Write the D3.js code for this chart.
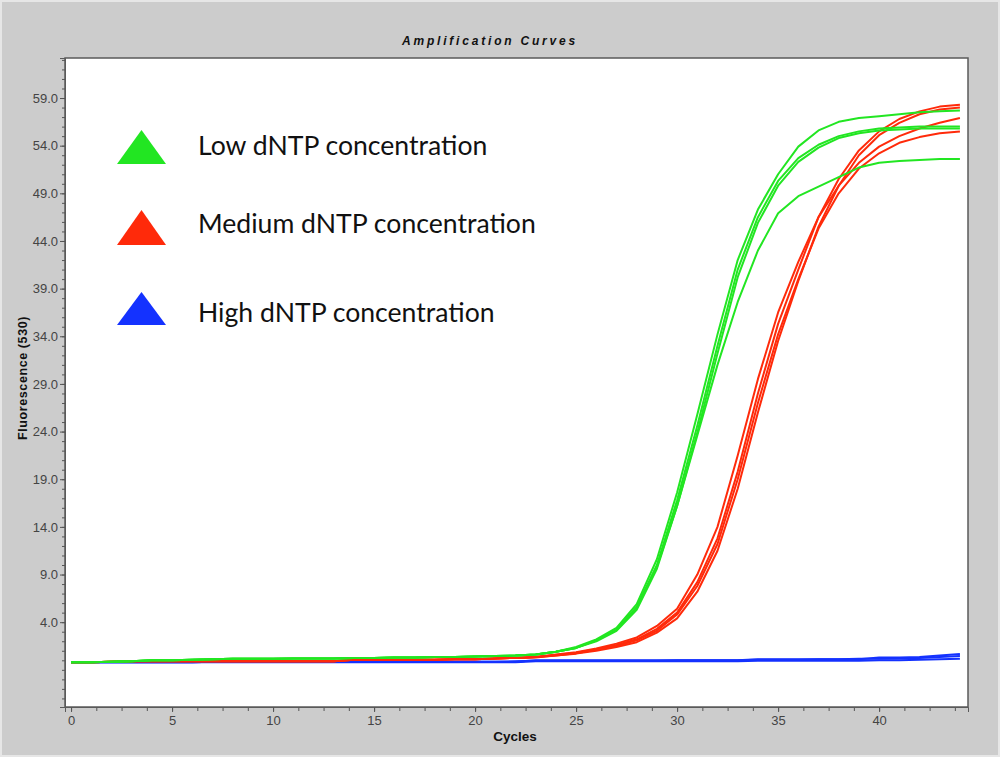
<!DOCTYPE html>
<html>
<head>
<meta charset="utf-8">
<script src="https://cdn.jsdelivr.net/npm/d3@7"></script>
<style>
  body { margin: 0; background: #cccccc; }
  svg { display: block; }
  .tick text { font-family: "Liberation Sans", Arial, sans-serif; font-size: 13px; fill: #444; }
  .tick line { stroke: #555; }
</style>
</head>
<body>
<div class="container"></div>
<script>
// Cycle numbers (x values) shared by every curve
const cycles = d3.range(0, 45);

// Low dNTP concentration (green) curves
const lowA = [-0.2,-0.2,-0.15,-0.1,0.0,0.0,0.05,0.1,0.15,0.15,0.15,0.2,0.2,0.2,0.25,0.25,0.3,0.3,0.35,0.35,0.4,0.45,0.5,0.6,0.9,1.3,2.1,3.2,5.6,10.0,16.8,24.6,33.0,41.0,46.5,50.3,52.7,54.1,55.0,55.5,55.8,55.9,56.0,56.0,56.0];
const lowB = [-0.2,-0.2,-0.15,-0.1,0.0,0.0,0.05,0.1,0.15,0.15,0.15,0.2,0.2,0.2,0.25,0.25,0.3,0.3,0.35,0.35,0.4,0.45,0.5,0.6,0.9,1.3,2.0,3.1,5.3,9.6,16.2,23.9,32.2,40.2,45.9,49.8,52.3,53.8,54.8,55.3,55.6,55.7,55.8,55.8,55.8];
const lowC = [-0.2,-0.2,-0.15,-0.1,0.0,0.0,0.05,0.1,0.15,0.15,0.15,0.2,0.2,0.2,0.25,0.25,0.3,0.3,0.35,0.35,0.4,0.45,0.5,0.6,0.9,1.4,2.2,3.4,5.9,10.6,17.6,25.8,34.2,42.0,47.3,51.0,53.9,55.6,56.5,56.9,57.1,57.3,57.5,57.6,57.7];
const lowD = [-0.2,-0.2,-0.15,-0.1,0.0,0.0,0.05,0.1,0.15,0.15,0.15,0.2,0.2,0.2,0.25,0.25,0.3,0.3,0.35,0.35,0.4,0.45,0.5,0.6,0.9,1.3,2.1,3.2,5.5,9.8,16.2,23.6,31.0,37.6,43.0,46.9,48.7,49.7,50.7,51.7,52.2,52.4,52.5,52.6,52.6];

// Medium dNTP concentration (red) curves
const medA = [-0.2,-0.2,-0.15,-0.1,-0.1,-0.1,-0.1,-0.1,-0.1,-0.1,-0.1,-0.1,-0.1,-0.1,0.05,0.05,0.05,0.05,0.05,0.1,0.1,0.2,0.25,0.35,0.55,0.8,1.15,1.6,2.2,3.3,5.0,8.2,12.8,19.8,28.0,35.3,41.0,46.5,50.5,53.5,55.5,56.8,57.6,58.1,58.3];
const medB = [-0.2,-0.2,-0.15,-0.1,-0.1,-0.1,-0.1,-0.1,-0.1,-0.1,-0.1,-0.1,-0.1,-0.1,0.05,0.05,0.05,0.05,0.05,0.1,0.1,0.2,0.25,0.3,0.5,0.7,1.0,1.4,1.9,2.9,4.4,7.2,11.5,18.0,26.0,33.5,39.8,45.5,49.8,53.0,55.1,56.4,57.3,57.8,58.0];
const medC = [-0.2,-0.2,-0.15,-0.1,-0.1,-0.1,-0.1,-0.1,-0.1,-0.1,-0.1,-0.1,-0.1,-0.1,0.05,0.05,0.05,0.05,0.05,0.1,0.1,0.2,0.25,0.35,0.6,0.85,1.25,1.75,2.4,3.6,5.4,9.0,14.0,21.5,29.5,36.5,41.8,46.5,49.8,52.2,53.9,55.0,55.8,56.4,56.9];
const medD = [-0.2,-0.2,-0.15,-0.1,-0.1,-0.1,-0.1,-0.1,-0.1,-0.1,-0.1,-0.1,-0.1,-0.1,0.05,0.05,0.05,0.05,0.05,0.1,0.1,0.2,0.25,0.35,0.5,0.75,1.1,1.5,2.1,3.1,4.8,7.8,12.2,19.0,27.0,34.2,40.0,45.3,49.0,51.6,53.2,54.3,54.9,55.3,55.5];

// High dNTP concentration (blue) curves
const highA = [-0.2,-0.2,-0.2,-0.2,-0.2,-0.2,-0.2,-0.15,-0.15,-0.15,-0.15,-0.15,-0.15,-0.15,-0.15,-0.15,-0.15,-0.15,-0.15,-0.15,-0.15,-0.15,-0.15,0.0,0.0,0.0,0.0,0.0,0.0,0.0,0.0,0.0,0.0,0.0,0.1,0.1,0.1,0.1,0.1,0.1,0.3,0.3,0.35,0.5,0.65];
const highB = [-0.2,-0.2,-0.2,-0.2,-0.2,-0.2,-0.2,-0.2,-0.2,-0.2,-0.2,-0.2,-0.2,-0.2,-0.2,-0.2,-0.2,-0.2,-0.2,-0.2,-0.2,-0.2,-0.2,-0.1,-0.1,-0.1,-0.1,-0.1,-0.1,-0.1,-0.1,-0.1,-0.1,-0.1,-0.05,-0.05,-0.05,-0.05,-0.05,-0.05,0.0,0.0,0.05,0.1,0.15];
const highC = [-0.2,-0.2,-0.2,-0.2,-0.2,-0.2,-0.2,-0.15,-0.15,-0.15,-0.15,-0.15,-0.15,-0.15,-0.15,-0.15,-0.15,-0.15,-0.15,-0.15,-0.15,-0.15,-0.1,-0.05,-0.05,-0.05,-0.05,-0.05,-0.05,-0.05,0.0,0.0,0.0,0.0,0.05,0.05,0.05,0.1,0.1,0.15,0.15,0.2,0.25,0.35,0.45];

// Legend entries
const legendNames = ['Low dNTP concentration', 'Medium dNTP concentration', 'High dNTP concentration'];
const legendColors = ['#22e622', '#ff2a0a', '#1432ff'];

// Tick values
const xMajorTicks = [0, 5, 10, 15, 20, 25, 30, 35, 40];
const xMinorTicks = d3.range(0, 44.5, 1.25);
const yMajorTicks = [4, 9, 14, 19, 24, 29, 34, 39, 44, 49, 54, 59];
const yMinorTicks = d3.range(-4, 64, 1);

// Curves grouped by colour, drawn blue first so green ends on top
const series = [
  { color: legendColors[2], curves: [highB, highC, highA] },
  { color: legendColors[1], curves: [medA, medB, medC, medD] },
  { color: legendColors[0], curves: [lowA, lowB, lowC, lowD] }
];

const width = 1000;
const height = 757;

const svg = d3.select('.container')
  .append('svg')
  .attr('width', width)
  .attr('height', height);

// Grey background with light edge
svg.append('rect')
  .attr('x', 0.5).attr('y', 0.5)
  .attr('width', width - 1).attr('height', height - 1)
  .attr('fill', '#cccccc')
  .attr('stroke', '#e6e6e6')
  .attr('stroke-width', 3);

// Scales: plot box runs from x 65 to 968 and y 58 to 707
const xScale = d3.scaleLinear().domain([-0.3, 44.4]).range([65, 968]);
const yScale = d3.scaleLinear().domain([-4.9, 63.2]).range([707, 58]);

// White plot area
svg.append('rect')
  .attr('x', xScale.range()[0])
  .attr('y', yScale.range()[1])
  .attr('width', xScale.range()[1] - xScale.range()[0])
  .attr('height', yScale.range()[0] - yScale.range()[1])
  .attr('fill', '#ffffff')
  .attr('stroke', '#5a5a5a')
  .attr('stroke-width', 1.5);

// Minor ticks first, then labelled ticks
svg.append('g')
  .attr('transform', 'translate(0, 707)')
  .call(d3.axisBottom(xScale).tickValues(xMinorTicks).tickSize(4).tickFormat(''))
  .call(g => g.select('.domain').remove());

svg.append('g')
  .attr('transform', 'translate(0, 707)')
  .call(d3.axisBottom(xScale).tickValues(xMajorTicks).tickSize(5).tickPadding(4).tickFormat(d3.format('d')))
  .call(g => g.select('.domain').attr('stroke', '#5a5a5a'));

svg.append('g')
  .attr('transform', 'translate(65, 0)')
  .call(d3.axisLeft(yScale).tickValues(yMinorTicks).tickSize(3).tickFormat(''))
  .call(g => g.select('.domain').remove());

svg.append('g')
  .attr('transform', 'translate(65, 0)')
  .call(d3.axisLeft(yScale).tickValues(yMajorTicks).tickSize(5).tickPadding(2).tickFormat(d3.format('.1f')))
  .call(g => g.select('.domain').attr('stroke', '#5a5a5a'));

// The curves
const line = d3.line()
  .x((d, i) => xScale(cycles[i]))
  .y(d => yScale(d));

series.forEach(s => {
  svg.append('g')
    .selectAll('path')
    .data(s.curves)
    .enter()
    .append('path')
    .attr('d', line)
    .attr('fill', 'none')
    .attr('stroke', s.color)
    .attr('stroke-width', 2)
    .attr('stroke-linejoin', 'round');
});

// Chart title
svg.append('text')
  .text('Amplification Curves')
  .attr('x', 490)
  .attr('y', 45)
  .attr('text-anchor', 'middle')
  .style('font-family', '"Liberation Sans", Arial, sans-serif')
  .style('font-size', '12px')
  .style('font-weight', 'bold')
  .style('font-style', 'italic')
  .style('letter-spacing', '2.8px')
  .style('fill', '#111');

// Axis titles
svg.append('text')
  .text('Cycles')
  .attr('x', 515)
  .attr('y', 741)
  .attr('text-anchor', 'middle')
  .style('font-family', '"Liberation Sans", Arial, sans-serif')
  .style('font-size', '13.5px')
  .style('font-weight', 'bold')
  .style('fill', '#111');

svg.append('text')
  .text('Fluorescence (530)')
  .attr('transform', 'rotate(-90)')
  .attr('x', -378)
  .attr('y', 27)
  .attr('text-anchor', 'middle')
  .style('font-family', '"Liberation Sans", Arial, sans-serif')
  .style('font-size', '12.5px')
  .style('font-weight', 'bold')
  .style('letter-spacing', '0.6px')
  .style('fill', '#111');

// Legend: triangle markers with large labels
const legendTop = [130, 210, 292];
const legendBase = [164, 245, 325];
const legendText = [155, 233, 322];

const legend = svg.append('g')
  .selectAll('g')
  .data(legendNames)
  .enter()
  .append('g');

legend.append('path')
  .attr('d', (d, i) => `M117,${legendBase[i]} L141.5,${legendTop[i]} L166,${legendBase[i]} Z`)
  .attr('fill', (d, i) => legendColors[i]);

legend.append('text')
  .text(d => d)
  .attr('x', 198)
  .attr('y', (d, i) => legendText[i])
  .style('font-family', 'Lato, "Open Sans", sans-serif')
  .style('font-size', '26.6px')
  .style('fill', '#111');
</script>
</body>
</html>
